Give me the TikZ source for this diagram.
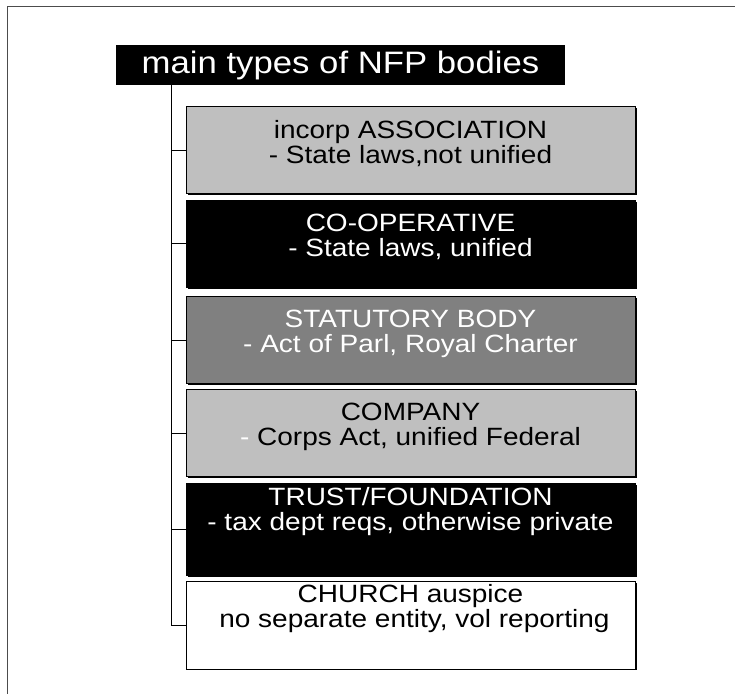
\documentclass[tikz,border=0pt]{standalone}
\usepackage{fontspec}
\setmainfont{Liberation Sans}
\newfontfamily\widesans[FakeStretch=1.12]{Liberation Sans}
\usetikzlibrary{positioning, calc, shadows}

\begin{document}
\begin{tikzpicture}[x=1pt, y=-1pt,
		kind/.style={draw, line width=0.8pt, minimum width=449pt, minimum height=87pt, align=center, font=\widesans\fontsize{25}{25}\selectfont, drop shadow={shadow xshift=1.5pt, shadow yshift=-1.5pt, opacity=1, fill=black}},
		link/.style={line width=0.8pt}]
			\useasboundingbox (0,0) rectangle (735,693);
			\draw [line width=1pt, black!70] (7,7) rectangle (760,720);
			
			\node (title) [fill=black, text=white, minimum width=449pt, minimum height=40pt, font=\widesans\fontsize{31}{31}\selectfont] at (340.5,65) {main types of NFP bodies};
			
			\node (assoc) [kind, fill=black!25] at (410.5,150) {incorp ASSOCIATION\\- State laws,not unified\\[-8pt]~};
			\node (coop) [kind, fill=black, text=white] at (410.5,243.5) {CO-OPERATIVE\\- State laws, unified\\[-8pt]~};
			\node (statutory) [kind, fill=black!50, text=white] at (410.5,340) {STATUTORY BODY\\- Act of Parl, Royal Charter\\[-8pt]~};
			\node (company) [kind, fill=black!25] at (410.5,433) {COMPANY\\\textcolor{white}{-} Corps Act, unified Federal\\[-8pt]~};
			\node (trust) [kind, fill=black, text=white] at (410.5,529.5) {TRUST/FOUNDATION\\- tax dept reqs, otherwise private\\~\\[-8pt]~};
			\node (church) [kind, fill=white] at (410.5,625) {CHURCH auspice\\~no separate entity, vol reporting\\~\\[-12pt]~};
			
			\coordinate (trunk) at ($(title.south west)+(56,0)$);
			\draw [link] (trunk) |- (church.west);
			\draw [link] (trunk |- assoc.west) -- (assoc.west);
			\draw [link] (trunk |- coop.west) -- (coop.west);
			\draw [link] (trunk |- statutory.west) -- (statutory.west);
			\draw [link] (trunk |- company.west) -- (company.west);
			\draw [link] (trunk |- trust.west) -- (trust.west);
		\end{tikzpicture}
\end{document}
